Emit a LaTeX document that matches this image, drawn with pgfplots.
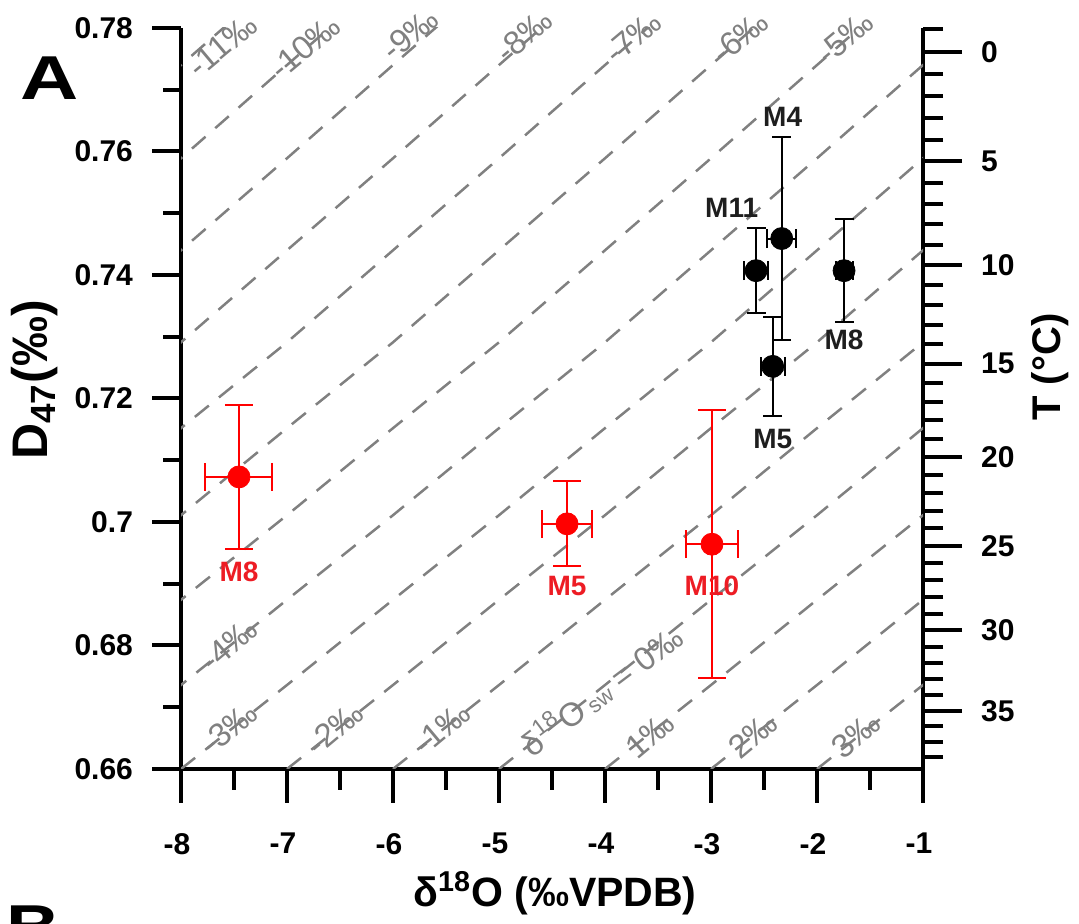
\documentclass[border=0pt]{standalone}
\usepackage{pgfplots}
\pgfplotsset{compat=1.18}
\usepackage{fontspec}
\setmainfont{Liberation Sans}
\definecolor{isog}{RGB}{128,128,128}
\definecolor{lblred}{RGB}{237,28,36}
\definecolor{lblblk}{RGB}{30,30,30}
\newcommand\fs[1]{\fontsize{#1pt}{#1pt}\selectfont}
\pgfplotsset{
  base/.style={at={(90.5pt,77.5pt)}, anchor=south west, scale only axis,
    width=371pt, height=370.5pt, xmin=-8, xmax=-1, ymin=0.66, ymax=0.78,
    clip mode=individual,
    axis line style={line width=2pt},
    every tick/.style={line width=2pt, black},
    tick align=outside},
  iso/.style={isog, line width=1.25pt, dash pattern=on 9pt off 6.5pt, forget plot},
}
\begin{document}
\begin{tikzpicture}[x=1pt,y=1pt]
\useasboundingbox (0,0) rectangle (539.5,462);
% x axis
\begin{axis}[base, axis x line*=bottom, axis y line=none,
  xtick={-8,-7,-6,-5,-4,-3,-2,-1},
  xticklabels={-8,-7,-6,-5,-4,-3,-2,-1},
  minor x tick num=1,
  major tick length=17pt, minor tick length=10.5pt,
  xticklabel style={font=\fs{15}\bfseries, yshift=-11.5pt, xshift=-2pt}]
\end{axis}
% right axis (temperature)
\begin{axis}[base, axis y line*=right, axis x line=none,
  ytick={0.77615,0.75840,0.74159,0.72565,0.71051,0.69613,0.68245,0.66944},
  yticklabels={0,5,10,15,20,25,30,35},
  minor ytick={0.77982,0.77253,0.76894,0.76539,0.76188,0.75497,0.75157,0.74821,0.74489,0.73834,0.73512,0.73193,0.72877,0.72256,0.71950,0.71647,0.71347,0.70758,0.70467,0.70180,0.69895,0.69334,0.69057,0.68784,0.68513,0.67980,0.67717,0.67457,0.67198,0.66691,0.66441,0.66193},
  major tick length=19.5pt, minor tick length=10pt,
  yticklabel style={font=\fs{15}\bfseries, xshift=6pt}]
\end{axis}
% left axis and data
\begin{axis}[base, axis y line*=left, axis x line=none,
  ytick={0.66,0.68,0.70,0.72,0.74,0.76,0.78},
  yticklabels={0.66,0.68,0.7,0.72,0.74,0.76,0.78},
  minor y tick num=1,
  major tick length=14.5pt, minor tick length=9pt,
  yticklabel style={font=\fs{15}\bfseries, xshift=-6pt}]
% iso-lines of seawater d18O
\addplot[iso] coordinates {(-9,0.7589) (-8,0.7740) (-7.5,0.7815)};
\addplot[iso] coordinates {(-9,0.7440) (-8,0.7589) (-7,0.7740) (-6.5,0.7815)};
\addplot[iso] coordinates {(-9,0.7291) (-8,0.7440) (-7,0.7589) (-6,0.7740) (-5.5,0.7815)};
\addplot[iso] coordinates {(-9,0.7152) (-8,0.7291) (-7,0.7440) (-6,0.7589) (-5,0.7740) (-4.5,0.7815)};
\addplot[iso] coordinates {(-9,0.7011) (-8,0.7152) (-7,0.7291) (-6,0.7440) (-5,0.7589) (-4,0.7740) (-3.5,0.7815)};
\addplot[iso] coordinates {(-9,0.6874) (-8,0.7011) (-7,0.7152) (-6,0.7291) (-5,0.7440) (-4,0.7589) (-3,0.7740) (-2.5,0.7815)};
\addplot[iso] coordinates {(-9,0.6736) (-8,0.6874) (-7,0.7011) (-6,0.7152) (-5,0.7291) (-4,0.7440) (-3,0.7589) (-2,0.7740) (-1.5,0.7815)};
\addplot[iso] coordinates {(-9,0.66) (-8,0.6736) (-7,0.6874) (-6,0.7011) (-5,0.7152) (-4,0.7291) (-3,0.7440) (-2,0.7589) (-1,0.7740) (-0.5,0.7815)};
\addplot[iso] coordinates {(-8,0.66) (-7,0.6736) (-6,0.6874) (-5,0.7011) (-4,0.7152) (-3,0.7291) (-2,0.7440) (-1,0.7589) (0,0.7740)};
\addplot[iso] coordinates {(-7,0.66) (-6,0.6736) (-5,0.6874) (-4,0.7011) (-3,0.7152) (-2,0.7291) (-1,0.7440) (0,0.7589)};
\addplot[iso] coordinates {(-6,0.66) (-5,0.6736) (-4,0.6874) (-3,0.7011) (-2,0.7152) (-1,0.7291) (0,0.7440)};
\addplot[iso] coordinates {(-5,0.66) (-4,0.6736) (-3,0.6874) (-2,0.7011) (-1,0.7152) (0,0.7291)};
\addplot[iso] coordinates {(-4,0.66) (-3,0.6736) (-2,0.6874) (-1,0.7011) (0,0.7152)};
\addplot[iso] coordinates {(-3,0.66) (-2,0.6736) (-1,0.6874) (0,0.7011)};
\addplot[iso] coordinates {(-2,0.66) (-1,0.6736) (0,0.6874)};
% iso-line labels
\begin{scope}[every node/.style={isog, font=\fs{16.5}, rotate=40, inner sep=0pt}]
\node at (axis cs:-7.613,0.7772) {-11‰};
\node at (axis cs:-6.830,0.7769) {-10‰};
\node at (axis cs:-5.840,0.7790) {-9‰};
\node at (axis cs:-4.764,0.7787) {-8‰};
\node at (axis cs:-3.736,0.7785) {-7‰};
\node at (axis cs:-2.726,0.7785) {-6‰};
\node at (axis cs:-1.736,0.7784) {-5‰};
\node at (axis cs:-7.547,0.6801) {-4‰};
\node at (axis cs:-7.547,0.6666) {-3‰};
\node at (axis cs:-6.547,0.6666) {-2‰};
\node at (axis cs:-5.538,0.6666) {-1‰};
\node[rotate=-3] at (axis cs:-4.038,0.6728) {δ\textsuperscript{18}O\,\raisebox{-1pt}{\fs{11}sw} = 0‰};
\node at (axis cs:-3.575,0.6655) {1‰};
\node at (axis cs:-2.604,0.6655) {2‰};
\node at (axis cs:-1.632,0.6655) {3‰};
\end{scope}
% red samples
\addplot[only marks, mark=*, mark size=5.5pt, color=red,
  error bars/.cd, x dir=both, x explicit, y dir=both, y explicit,
  error bar style={line width=1pt, red},
  error mark options={rotate=90, line width=1pt, mark size=7pt, red}]
  coordinates {
  (-7.453,0.7073) +- (0.316,0.0116)
  (-4.358,0.6997) +- (0.236,0.0069)
  (-2.991,0.6964) +- (0.245,0.0217)
  };
% black samples
\addplot[only marks, mark=*, mark size=5.5pt, color=black,
  error bars/.cd, x dir=both, x explicit, y dir=both, y explicit,
  error bar style={line width=1pt, black},
  error mark options={rotate=90, line width=1pt, mark size=4.75pt, black}]
  coordinates {
  (-2.575,0.7407) +- (0.113,0.0069)
  (-2.333,0.7459) +- (0.137,0.0164)
  (-2.418,0.7252) +- (0.115,0.0080)
  (-1.745,0.7407) +- (0.080,0.0083)
  };
\begin{scope}[every node/.style={font=\fs{14}\bfseries, inner sep=0pt}]
\node[lblred] at (axis cs:-7.453,0.6919) {M8};
\node[lblred] at (axis cs:-4.358,0.6896) {M5};
\node[lblred] at (axis cs:-2.991,0.6896) {M10};
\node[lblblk] at (axis cs:-2.324,0.7656) {M4};
\node[lblblk] at (axis cs:-2.805,0.7508) {M11};
\node[lblblk] at (axis cs:-1.745,0.7295) {M8};
\node[lblblk] at (axis cs:-2.418,0.7134) {M5};
\end{scope}
\end{axis}
% axis titles
\node[font=\fs{25}\bfseries, rotate=90] at ({35*0.5},{(924-380)*0.5}) {D\textsubscript{47}(‰)};
\node[font=\fs{20}\bfseries, rotate=90] at ({1050*0.5},{(924-367)*0.5}) {T (°C)};
\node[font=\fs{20.5}\bfseries] at ({555*0.5},{(924-893)*0.5}) {δ\textsuperscript{18}O (‰VPDB)};
\node[font=\fs{31}\bfseries] at ({50*0.5},{(924-78)*0.5}) {\scalebox{1.3}[1]{A}};
\node[font=\fs{31}\bfseries, anchor=north west, inner sep=0pt] at ({6*0.5},{(924-905)*0.5}) {\scalebox{1.2}[1]{B}};
\end{tikzpicture}
\end{document}
